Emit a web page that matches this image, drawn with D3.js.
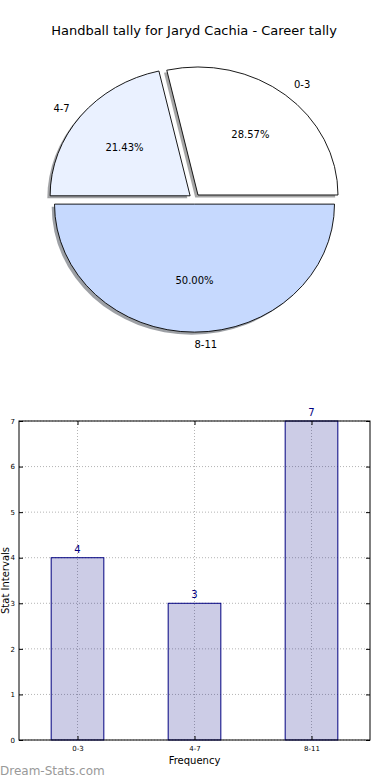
<!DOCTYPE html>
<html>
<head>
<meta charset="utf-8">
<script src="https://cdn.jsdelivr.net/npm/d3@7"></script>
<style>
	body { margin: 0; background: #fff; }
	svg { display: block; font-family: "DejaVu Sans", sans-serif; }
</style>
</head>
<body>
<svg id="chart" width="390" height="780"></svg>
<script>

// chart data
var title = "Handball tally for Jaryd Cachia - Career tally";
var categories = [ "0-3", "4-7", "8-11" ];
var counts = [ 4, 3, 7 ];
var sliceColors = [ "#ffffff", "#eaf1ff", "#c6d9fe" ];
var yTicks = [ 0, 1, 2, 3, 4, 5, 6, 7 ];

var svg = d3.select("#chart");

svg.append("text")
	.attr("x", 194).attr("y", 35)
	.attr("text-anchor", "middle")
	.attr("font-size", 13)
	.text(title);

// ---- pie (matplotlib style: counterclockwise from east, exploded, shadowed)

const pie_c = { x: 194.5, y: 199, rx: 140, ry: 128 },
	explode = 0.04;

var total = d3.sum(counts);

var arcs = d3.pie()
	.sort(null)
	.startAngle(Math.PI / 2)
	.endAngle(Math.PI / 2 - 2 * Math.PI)(counts);

var arc = d3.arc().innerRadius(0).outerRadius(1);

var gpie = svg.append("g");

arcs.forEach( (d, i) => {
	var m = (d.startAngle + d.endAngle) / 2;
	d.ux = Math.sin(m);
	d.uy = -Math.cos(m);
	d.cx = pie_c.x + explode * pie_c.rx * d.ux;
	d.cy = pie_c.y + explode * pie_c.ry * d.uy;
	d.color = sliceColors[i];
});

// shadows first
gpie.selectAll(".shadow")
	.data(arcs)
	.join("path")
		.attr("class", "shadow")
		.attr("transform", d => `translate(${d.cx - 0.02 * pie_c.rx},${d.cy + 0.02 * pie_c.ry}) scale(${pie_c.rx},${pie_c.ry})`)
		.attr("d", arc)
		.attr("fill", d => { var c = d3.rgb(d.color); return d3.rgb(c.r * 0.3, c.g * 0.3, c.b * 0.3); })
		.attr("fill-opacity", 0.5);

gpie.selectAll(".slice")
	.data(arcs)
	.join("path")
		.attr("class", "slice")
		.attr("transform", d => `translate(${d.cx},${d.cy}) scale(${pie_c.rx},${pie_c.ry})`)
		.attr("d", arc)
		.attr("fill", d => d.color)
		.attr("stroke", "#000")
		.attr("stroke-width", 0.9)
		.attr("vector-effect", "non-scaling-stroke");

gpie.selectAll(".lbl")
	.data(arcs)
	.join("text")
		.attr("class", "lbl")
		.attr("x", d => d.cx + 1.1 * pie_c.rx * d.ux)
		.attr("y", d => d.cy + 1.1 * pie_c.ry * d.uy)
		.attr("dy", "0.35em")
		.attr("text-anchor", d => d.ux > -1e-6 ? "start" : "end")
		.attr("font-size", 10)
		.text((d, i) => categories[i]);

gpie.selectAll(".pct")
	.data(arcs)
	.join("text")
		.attr("class", "pct")
		.attr("x", d => d.cx + 0.6 * pie_c.rx * d.ux)
		.attr("y", d => d.cy + 0.6 * pie_c.ry * d.uy)
		.attr("dy", "0.35em")
		.attr("text-anchor", "middle")
		.attr("font-size", 10)
		.text(d => d3.format(".2f")(d.value / total * 100) + "%");

// ---- bar chart

const margin = { top: 421, right: 20, bottom: 40, left: 19 },
	width = 390 - margin.left - margin.right,
	height = 780 - margin.top - margin.bottom;

var g = svg.append("g")
	.attr("transform", `translate(${margin.left},${margin.top})`);

var x = d3.scaleLinear([ -0.5, categories.length - 0.5 ], [ 0, width ]);
var y = d3.scaleLinear([ 0, 7 ], [ height, 0 ]);
var barw = x(0.45) - x(0);
var idx = categories.map((c, i) => i);

// grid
var grid = g.append("g").attr("class", "grid");
grid.append("g").selectAll("line")
	.data(yTicks)
	.join("line")
		.attr("x1", 0).attr("x2", width)
		.attr("y1", d => y(d)).attr("y2", d => y(d));
grid.append("g").selectAll("line")
	.data(idx)
	.join("line")
		.attr("x1", d => x(d)).attr("x2", d => x(d))
		.attr("y1", 0).attr("y2", height);
grid.selectAll("line")
	.attr("stroke", "#b4b4b4")
	.attr("stroke-width", 1)
	.attr("stroke-dasharray", "1,2");

// bars
g.selectAll(".bar")
	.data(counts)
	.join("rect")
		.attr("class", "bar")
		.attr("x", (d, i) => x(i) - barw / 2)
		.attr("y", d => y(d))
		.attr("width", barw)
		.attr("height", d => height - y(d))
		.attr("fill", "#000080")
		.attr("fill-opacity", 0.2)
		.attr("stroke", "#000080")
		.attr("stroke-width", 1);

g.selectAll(".val")
	.data(counts)
	.join("text")
		.attr("class", "val")
		.attr("x", (d, i) => x(i))
		.attr("y", d => y(d) - 5)
		.attr("text-anchor", "middle")
		.attr("font-size", 10)
		.attr("fill", "#000080")
		.text(d => d);

// axes, ticks inward on all sides
var yaxis = d3.axisLeft(y).tickValues(yTicks).tickSize(-4).tickPadding(4).tickFormat(d3.format("d"));
var yaxisR = d3.axisRight(y).tickValues(yTicks).tickSize(-4).tickFormat("");
var xaxis = d3.axisBottom(x).tickValues(idx).tickSize(-4).tickPadding(6).tickFormat(i => categories[i]);
var xaxisT = d3.axisTop(x).tickValues(idx).tickSize(-4).tickFormat("");

g.append("g").call(yaxis);
g.append("g").attr("transform", `translate(${width},0)`).call(yaxisR);
g.append("g").attr("transform", `translate(0,${height})`).call(xaxis);
g.append("g").call(xaxisT);

g.selectAll(".domain").remove();
g.selectAll(".tick line").attr("stroke", "#000");
g.selectAll(".tick text").attr("font-size", 7).attr("font-family", "DejaVu Sans, sans-serif").attr("fill", "#000");

g.append("rect")
	.attr("width", width).attr("height", height)
	.attr("fill", "none")
	.attr("stroke", "#000")
	.attr("stroke-width", 1);

g.append("text")
	.attr("x", width / 2).attr("y", height + 24)
	.attr("text-anchor", "middle")
	.attr("font-size", 10)
	.text("Frequency");

g.append("text")
	.attr("transform", `translate(${-margin.left + 9},${height / 2}) rotate(-90)`)
	.attr("text-anchor", "middle")
	.attr("font-size", 10)
	.text("Stat Intervals");

svg.append("text")
	.attr("x", 0).attr("y", 775)
	.attr("font-size", 12)
	.attr("fill", "#999")
	.text("Dream-Stats.com");

</script>
</body>
</html>
